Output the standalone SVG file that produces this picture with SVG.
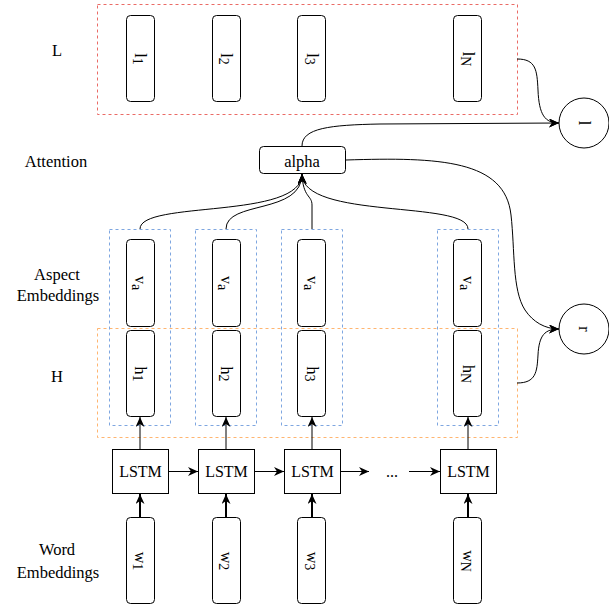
<svg xmlns="http://www.w3.org/2000/svg" width="609" height="610" viewBox="0 0 609 610" font-family="'Liberation Serif', 'Times New Roman', 'DejaVu Serif', serif" font-size="16">
  <style>
    text { font-family: 'Liberation Serif', 'Times New Roman', 'DejaVu Serif', serif; font-size: 16px; fill: #000; }
    .lbl { text-anchor: middle; }
    .row { font-size: 16.5px; }
    .node { fill: #fff; stroke: #000; stroke-width: 1; }
    .grp-red { fill: none; stroke: #EA6B66; stroke-dasharray: 3 3; }
    .grp-orange { fill: none; stroke: #FFB570; stroke-dasharray: 3 3; }
    .grp-blue { fill: none; stroke: #7EA6E0; stroke-dasharray: 3 3; }
    .edge { fill: none; stroke: #000; stroke-width: 1; }
    .edge-thick { fill: none; stroke: #000; stroke-width: 2; }
  </style>
  <defs>
    <marker id="arrow" markerUnits="userSpaceOnUse" viewBox="0 0 10 9" refX="10" refY="4.5" markerWidth="10" markerHeight="9" orient="auto">
      <path d="M0,0 L10,4.5 L0,9 L3,4.5 Z" fill="#000"/>
    </marker>
  </defs>

  <!-- row labels -->
  <g id="row-labels">
    <text class="lbl row" x="57" y="56">L</text>
    <text class="lbl row" x="56" y="167">Attention</text>
    <text class="lbl row" x="57" y="280">Aspect</text>
    <text class="lbl row" x="58" y="301">Embeddings</text>
    <text class="lbl row" x="57" y="382">H</text>
    <text class="lbl row" x="57" y="555">Word</text>
    <text class="lbl row" x="58" y="578">Embeddings</text>
  </g>

  <!-- group frames -->
  <g id="frame-L"><rect class="grp-red" x="97.5" y="4.5" width="420" height="110"/></g>
  <g id="frame-H"><rect class="grp-orange" x="97.5" y="328.5" width="420" height="109"/></g>
  <g id="frame-col1"><rect class="grp-blue" x="109.5" y="229.5" width="61" height="196"/></g>
  <g id="frame-col2"><rect class="grp-blue" x="195.5" y="229.5" width="61" height="196"/></g>
  <g id="frame-col3"><rect class="grp-blue" x="281.5" y="229.5" width="61" height="196"/></g>
  <g id="frame-colN"><rect class="grp-blue" x="437.5" y="229.5" width="61" height="196"/></g>

  <!-- connectors -->
  <g id="connectors">
    <!-- word embeddings into LSTM cells -->
    <path class="edge-thick" d="M140,518 L140,494" marker-end="url(#arrow)"/>
    <path class="edge-thick" d="M226,518 L226,494" marker-end="url(#arrow)"/>
    <path class="edge-thick" d="M312,518 L312,494" marker-end="url(#arrow)"/>
    <path class="edge-thick" d="M468,518 L468,494" marker-end="url(#arrow)"/>
    <!-- LSTM cells up to hidden states -->
    <path class="edge" d="M140,449 L140,417" marker-end="url(#arrow)"/>
    <path class="edge" d="M226,449 L226,417" marker-end="url(#arrow)"/>
    <path class="edge" d="M312,449 L312,417" marker-end="url(#arrow)"/>
    <path class="edge" d="M468,449 L468,417" marker-end="url(#arrow)"/>
    <!-- recurrent chain -->
    <path class="edge" d="M168,471.5 L198,471.5" marker-end="url(#arrow)"/>
    <path class="edge" d="M254,471.5 L284,471.5" marker-end="url(#arrow)"/>
    <path class="edge" d="M340,471.5 L369,471.5" marker-end="url(#arrow)"/>
    <path class="edge" d="M409,471.5 L440,471.5" marker-end="url(#arrow)"/>
    <!-- columns into attention -->
    <path class="edge" d="M140,229 C140,200 302,220 302,174" marker-end="url(#arrow)"/>
    <path class="edge" d="M226,229 C226,200 302,215 302,174" marker-end="url(#arrow)"/>
    <path class="edge" d="M312,229 L312,205 C312,195 303,198 302,174" marker-end="url(#arrow)"/>
    <path class="edge" d="M468,229 C468,200 302,220 302,174" marker-end="url(#arrow)"/>
    <!-- attention outputs -->
    <path class="edge" d="M302,146 C302,128 330,125 380,124 L559,123" marker-end="url(#arrow)"/>
    <path class="edge" d="M346,160 C440,157 505,160 511,215 C515,250 512,290 525,310 C533,322 545,329 559,329" marker-end="url(#arrow)"/>
    <!-- group frames into output circles -->
    <path class="edge" d="M517,59 C536,59 537,70 538,90 C539,115 545,123 559,123" marker-end="url(#arrow)"/>
    <path class="edge" d="M517,383 C536,383 537,372 538,355 C539,335 545,329 559,329" marker-end="url(#arrow)"/>
  </g>

  <!-- L row -->
  <g id="l1"><rect class="node" x="126.5" y="15.5" width="28" height="86" rx="4"/>
    <text class="lbl" transform="translate(140,59) rotate(90)" y="5">l<tspan font-size="14" dy="2">1</tspan></text></g>
  <g id="l2"><rect class="node" x="212.5" y="15.5" width="28" height="86" rx="4"/>
    <text class="lbl" transform="translate(226,59) rotate(90)" y="5">l<tspan font-size="14" dy="2">2</tspan></text></g>
  <g id="l3"><rect class="node" x="297.5" y="15.5" width="28" height="86" rx="4"/>
    <text class="lbl" transform="translate(311.5,59) rotate(90)" y="5">l<tspan font-size="14" dy="2">3</tspan></text></g>
  <g id="lN"><rect class="node" x="453.5" y="15.5" width="28" height="86" rx="4"/>
    <text class="lbl" transform="translate(467.5,59) rotate(90)" y="5">l<tspan font-size="14" dy="2">N</tspan></text></g>

  <!-- attention -->
  <g id="alpha"><rect class="node" x="259.5" y="146.5" width="86" height="27" rx="4"/>
    <text class="lbl" x="302" y="167" font-size="16.5" style="font-size:16.5px">alpha</text></g>

  <!-- aspect embeddings -->
  <g id="va1"><rect class="node" x="126.5" y="239.5" width="28" height="87" rx="4"/>
    <text class="lbl" transform="translate(140,283) rotate(90)" y="5">v<tspan font-size="14" dy="3">a</tspan></text></g>
  <g id="va2"><rect class="node" x="212.5" y="239.5" width="28" height="87" rx="4"/>
    <text class="lbl" transform="translate(226,283) rotate(90)" y="5">v<tspan font-size="14" dy="3">a</tspan></text></g>
  <g id="va3"><rect class="node" x="297.5" y="239.5" width="28" height="87" rx="4"/>
    <text class="lbl" transform="translate(311.5,283) rotate(90)" y="5">v<tspan font-size="14" dy="3">a</tspan></text></g>
  <g id="vaN"><rect class="node" x="453.5" y="239.5" width="28" height="87" rx="4"/>
    <text class="lbl" transform="translate(467.5,283) rotate(90)" y="5">v<tspan font-size="14" dy="3">a</tspan></text></g>

  <!-- hidden states -->
  <g id="h1"><rect class="node" x="126.5" y="330.5" width="28" height="86" rx="4"/>
    <text class="lbl" transform="translate(140,374) rotate(90)" y="5">h<tspan font-size="14" dy="2">1</tspan></text></g>
  <g id="h2"><rect class="node" x="212.5" y="330.5" width="28" height="86" rx="4"/>
    <text class="lbl" transform="translate(226,374) rotate(90)" y="5">h<tspan font-size="14" dy="2">2</tspan></text></g>
  <g id="h3"><rect class="node" x="297.5" y="330.5" width="28" height="86" rx="4"/>
    <text class="lbl" transform="translate(311.5,374) rotate(90)" y="5">h<tspan font-size="14" dy="2">3</tspan></text></g>
  <g id="hN"><rect class="node" x="453.5" y="330.5" width="28" height="86" rx="4"/>
    <text class="lbl" transform="translate(467.5,374) rotate(90)" y="5">h<tspan font-size="14" dy="2">N</tspan></text></g>

  <!-- LSTM cells -->
  <g id="lstm1"><rect class="node" x="112.5" y="449.5" width="56" height="44"/>
    <text class="lbl" x="140.5" y="477">LSTM</text></g>
  <g id="lstm2"><rect class="node" x="198.5" y="449.5" width="56" height="44"/>
    <text class="lbl" x="226.5" y="477">LSTM</text></g>
  <g id="lstm3"><rect class="node" x="284.5" y="449.5" width="56" height="44"/>
    <text class="lbl" x="312.5" y="477">LSTM</text></g>
  <g id="ellipsis"><text class="lbl" x="392" y="477">...</text></g>
  <g id="lstmN"><rect class="node" x="440.5" y="449.5" width="56" height="44"/>
    <text class="lbl" x="468.5" y="477">LSTM</text></g>

  <!-- word embeddings -->
  <g id="w1"><rect class="node" x="126.5" y="517.5" width="28" height="86" rx="4"/>
    <text class="lbl" transform="translate(140,561) rotate(90)" y="5">w<tspan font-size="14" dy="2">1</tspan></text></g>
  <g id="w2"><rect class="node" x="212.5" y="517.5" width="28" height="86" rx="4"/>
    <text class="lbl" transform="translate(226,561) rotate(90)" y="5">w<tspan font-size="14" dy="2">2</tspan></text></g>
  <g id="w3"><rect class="node" x="297.5" y="517.5" width="28" height="86" rx="4"/>
    <text class="lbl" transform="translate(311.5,561) rotate(90)" y="5">w<tspan font-size="14" dy="2">3</tspan></text></g>
  <g id="wN"><rect class="node" x="453.5" y="517.5" width="28" height="86" rx="4"/>
    <text class="lbl" transform="translate(467.5,561) rotate(90)" y="5">w<tspan font-size="14" dy="2">N</tspan></text></g>

  <!-- output circles -->
  <g id="out-l"><circle class="node" cx="584" cy="123" r="25"/>
    <text class="lbl" transform="translate(584,123) rotate(90)" y="5">l</text></g>
  <g id="out-r"><circle class="node" cx="584" cy="329" r="25"/>
    <text class="lbl" transform="translate(584,329) rotate(90)" y="5">r</text></g>
</svg>
